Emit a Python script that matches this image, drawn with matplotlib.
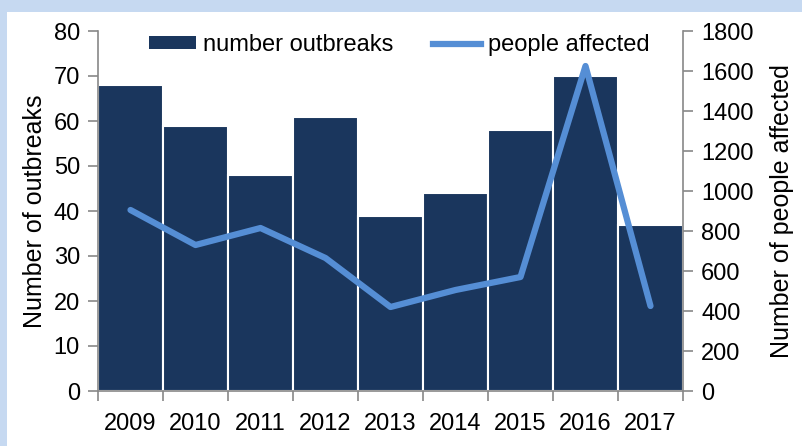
import matplotlib
matplotlib.use("Agg")
import matplotlib.pyplot as plt
from matplotlib.patches import Patch, Rectangle
from matplotlib.lines import Line2D
import numpy as np

# data
years = ["2009", "2010", "2011", "2012", "2013", "2014", "2015", "2016", "2017"]
outbreaks = [68, 59, 48, 61, 39, 44, 58, 70, 37]
people_affected = [905, 730, 815, 665, 420, 505, 570, 1625, 425]

bar_color = "#1a365d"
line_color = "#558ed5"
axis_gray = "#888888"

plt.rcParams["font.family"] = ["Liberation Sans", "DejaVu Sans"]

fig = plt.figure(figsize=(8.03, 4.46), dpi=100)
fig.patch.set_facecolor("#c6d9f1")
# white panel inside the light blue frame
fig.patches.append(Rectangle((7 / 803, 0), 1, (446 - 12) / 446,
                             transform=fig.transFigure, facecolor="white",
                             edgecolor="none", zorder=-10))

ax = fig.add_axes([98 / 803, 55 / 446, (683 - 98) / 803, (391 - 31) / 446])
ax.set_facecolor("none")
x = np.arange(len(years))

# bars
ax.bar(x, outbreaks, width=1.0, color=bar_color, edgecolor="white", linewidth=1.5)
ax.set_xlim(-0.5, len(years) - 0.5)
ax.set_ylim(0, 80)
ax.set_yticks(range(0, 81, 10))
ax.set_ylabel("Number of outbreaks", fontsize=18, labelpad=5)

# x ticks: labels at centres, marks at category boundaries
ax.set_xticks(x)
ax.set_xticklabels(years)
ax.set_xticks(np.arange(-0.5, len(years)), minor=True)
ax.tick_params(axis="x", which="major", length=0, pad=16, labelsize=17)
ax.tick_params(axis="x", which="minor", length=7, width=1.2, color=axis_gray)
ax.tick_params(axis="y", length=7, width=1.2, color=axis_gray, labelsize=17, pad=6)

for side in ["top", "right"]:
    ax.spines[side].set_visible(False)
for side in ["left", "bottom"]:
    ax.spines[side].set_color(axis_gray)
    ax.spines[side].set_linewidth(1.2)

# people affected on secondary axis
ax2 = ax.twinx()
ax2.plot(x, people_affected, color=line_color, linewidth=4.5, solid_capstyle="round")
ax2.set_ylim(0, 1800)
ax2.set_yticks(range(0, 1801, 200))
ax2.set_ylabel("Number of people affected", fontsize=18, labelpad=12)
ax2.tick_params(axis="y", length=7, width=1.2, color=axis_gray, labelsize=17, pad=6)
for side in ["top", "left", "bottom"]:
    ax2.spines[side].set_visible(False)
ax2.spines["right"].set_color(axis_gray)
ax2.spines["right"].set_linewidth(1.2)

# legend
handles = [Patch(facecolor=bar_color, edgecolor="none"),
           Line2D([], [], color=line_color, linewidth=4.5)]
ax2.legend(handles, ["number outbreaks", "people affected"], ncol=2,
           loc="upper left", bbox_to_anchor=(0.05, 1.05), frameon=False,
           fontsize=17, handlelength=2.0, handleheight=0.45,
           handletextpad=0.3, columnspacing=1.7)

fig.savefig("out.png", dpi=100, facecolor=fig.get_facecolor())
